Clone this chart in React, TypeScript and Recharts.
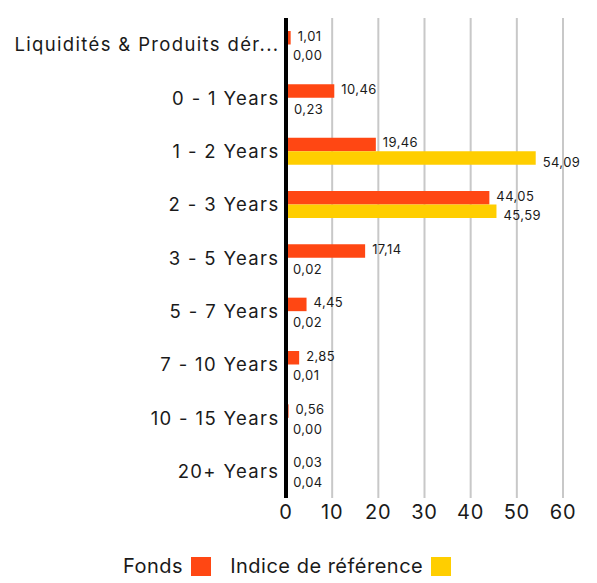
import React from 'react';
import { BarChart, Bar, XAxis, YAxis, CartesianGrid, ReferenceLine, LabelList } from 'recharts';

const categories = [
  'Liquidités & Produits dér...',
  '0 - 1 Years',
  '1 - 2 Years',
  '2 - 3 Years',
  '3 - 5 Years',
  '5 - 7 Years',
  '7 - 10 Years',
  '10 - 15 Years',
  '20+ Years',
];
const fonds = [1.01, 10.46, 19.46, 44.05, 17.14, 4.45, 2.85, 0.56, 0.03];
const indice = [0.0, 0.23, 54.09, 45.59, 0.02, 0.02, 0.01, 0.0, 0.04];
const xTicks = [0, 10, 20, 30, 40, 50, 60];
const seriesNames = ['Fonds', 'Indice de référence'];

const ORANGE = '#ff4713';
const YELLOW = '#ffce00';
const FONT = 'Inter, sans-serif';
const TEXT = '#1a1a1a';

const data = categories.map((c, i) => ({ name: c, fonds: fonds[i], indice: indice[i] }));

const fmt = (v: number) => v.toFixed(2).replace('.', ',');

const makeLabel = (dyPx: number) => (props: any) => {
  const { x, y, width, height, value } = props;
  return (
    <text
      x={Number(x) + Number(width || 0) + 7}
      y={Number(y) + Number(height) / 2 + dyPx}
      fontSize={13}
      fontFamily={FONT}
      fill={TEXT}
      letterSpacing={0.4}
      textAnchor="start"
    >
      {fmt(Number(value))}
    </text>
  );
};

const YTick = (props: any) => {
  const { x, y, payload } = props;
  return (
    <text
      x={Number(x) + 1.5}
      y={y}
      dy="0.355em"
      textAnchor="end"
      fontSize={18.5}
      fontFamily={FONT}
      fill={TEXT}
      letterSpacing={1.35}
    >
      {payload.value}
    </text>
  );
};

const XTick = (props: any) => {
  const { x, y, payload } = props;
  return (
    <text
      x={x}
      y={y}
      dy="0.71em"
      textAnchor="middle"
      fontSize={20}
      fontFamily={FONT}
      fill={TEXT}
      letterSpacing={0.8}
    >
      {payload.value}
    </text>
  );
};

export default function App() {
  return (
    <div style={{ position: 'relative', width: 589, height: 575 }}>
      <BarChart
        width={589}
        height={575}
        data={data}
        layout="vertical"
        margin={{ top: 10, right: 34, bottom: 55, left: 0 }}
        barGap={0}
      >
        <CartesianGrid horizontal={false} stroke="#c8c8c8" strokeWidth={2} />
        <XAxis
          type="number"
          domain={[0, 60]}
          ticks={xTicks}
          axisLine={false}
          tickLine={false}
          height={30}
          tickMargin={1}
          tick={<XTick />}
        />
        <YAxis
          type="category"
          dataKey="name"
          width={278}
          axisLine={false}
          tickLine={false}
          interval={0}
          tick={<YTick />}
        />
        <Bar dataKey="fonds" fill={ORANGE} barSize={13.5} minPointSize={0.01} isAnimationActive={false}>
          <LabelList dataKey="fonds" content={makeLabel(3)} />
        </Bar>
        <Bar dataKey="indice" fill={YELLOW} barSize={13.5} minPointSize={0.01} isAnimationActive={false}>
          <LabelList dataKey="indice" content={makeLabel(9)} />
        </Bar>
        <ReferenceLine x={0} stroke="#000" strokeWidth={4} />
      </BarChart>
      <div
        style={{
          position: 'absolute',
          left: 115,
          top: 548,
          display: 'flex',
          alignItems: 'center',
          fontFamily: FONT,
          fontSize: 20,
          color: TEXT,
          whiteSpace: 'nowrap',
          lineHeight: '20px',
          letterSpacing: '0.5px',
        }}
      >
        <span>{seriesNames[0]}</span>
        <span style={{ display: 'inline-block', width: 20, height: 19, background: ORANGE, marginLeft: 8 }} />
        <span style={{ marginLeft: 19 }}>{seriesNames[1]}</span>
        <span style={{ display: 'inline-block', width: 20, height: 19, background: YELLOW, marginLeft: 8 }} />
      </div>
    </div>
  );
}
